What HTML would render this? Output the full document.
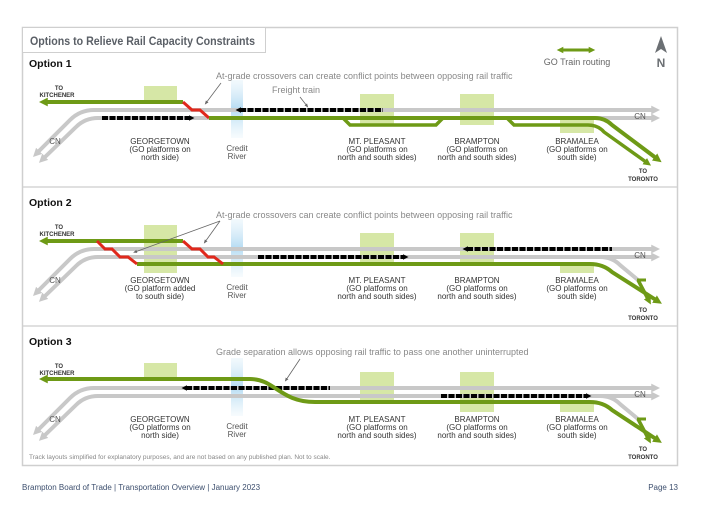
<!DOCTYPE html>
<html><head><meta charset="utf-8"><style>
html,body{margin:0;padding:0;background:#fff;}
svg{display:block;font-family:"Liberation Sans",sans-serif;}
</style></head><body>
<svg width="714" height="511" viewBox="0 0 714 511" xmlns="http://www.w3.org/2000/svg">
<defs>
<linearGradient id="riv" x1="0" y1="0" x2="0" y2="1">
<stop offset="0" stop-color="#d6ecf8" stop-opacity="0.3"/>
<stop offset="0.5" stop-color="#b6dcf3"/>
<stop offset="1" stop-color="#d6ecf8" stop-opacity="0.2"/>
</linearGradient>
<marker id="ga" viewBox="0 0 10 10" refX="2" refY="5" markerWidth="2.2" markerHeight="2.4" orient="auto-start-reverse"><path d="M0 0L10 5L0 10z" fill="#c8c8c8"/></marker>
<marker id="gr" viewBox="0 0 10 10" refX="2" refY="5" markerWidth="2.2" markerHeight="2.4" orient="auto-start-reverse"><path d="M0 0L10 5L0 10z" fill="#6e9a16"/></marker>
<marker id="bk" viewBox="0 0 10 10" refX="2" refY="5" markerWidth="1.4" markerHeight="1.4" orient="auto-start-reverse"><path d="M0 0L10 5L0 10z" fill="#000"/></marker>
<marker id="ar" viewBox="0 0 10 10" refX="5" refY="5" markerWidth="5" markerHeight="5" orient="auto"><path d="M0 1L10 5L0 9z" fill="#666"/></marker>
</defs>

<rect x="22.5" y="27.5" width="655" height="438" fill="none" stroke="#cfcfcf" stroke-width="1.5"/>
<rect x="22.5" y="27.5" width="243" height="25" fill="#fff" stroke="#cfcfcf" stroke-width="1"/>
<text x="30" y="45" font-size="12" font-weight="bold" fill="#5a5f66" textLength="225" lengthAdjust="spacingAndGlyphs">Options to Relieve Rail Capacity Constraints</text>
<line x1="23" y1="187" x2="677" y2="187" stroke="#d5d5d5" stroke-width="1.5"/>
<line x1="23" y1="326" x2="677" y2="326" stroke="#d5d5d5" stroke-width="1.5"/>

<line x1="562" y1="50" x2="590" y2="50" stroke="#6e9a16" stroke-width="3" marker-start="url(#gr)" marker-end="url(#gr)"/>
<text x="577" y="65" font-size="9" fill="#666" text-anchor="middle">GO Train routing</text>
<path d="M661 36L667 53L661 49L655 53Z" fill="#6b6f73"/>
<text x="661" y="67" font-size="12" font-weight="bold" fill="#6b6f73" text-anchor="middle">N</text>

<!-- OPTION 1 -->
<g>
<text x="29" y="67" font-size="10.5" font-weight="bold" fill="#111">Option 1</text>
<rect x="144" y="86" width="33" height="16" fill="#d6e7a6"/>
<rect x="360" y="94" width="34" height="31" fill="#d6e7a6"/>
<rect x="460" y="94" width="34" height="31" fill="#d6e7a6"/>
<rect x="560" y="118" width="34" height="15" fill="#d6e7a6"/>
<rect x="231" y="80" width="12" height="58" fill="url(#riv)"/>
<path d="M38 152L70 120Q80 110 94 110L653 110" fill="none" stroke="#c8c8c8" stroke-width="4" marker-start="url(#ga)" marker-end="url(#ga)"/>
<path d="M44 158L76 127Q85 118 98 118L653 118" fill="none" stroke="#c8c8c8" stroke-width="4" marker-start="url(#ga)" marker-end="url(#ga)"/>
<path d="M46 102L183 102" fill="none" stroke="#6e9a16" stroke-width="4" marker-start="url(#gr)"/>
<path d="M183 102L192 110L200 110L209 118" fill="none" stroke="#e0281c" stroke-width="3"/>
<path d="M209 118L595 118Q605 118 612 125L656 158" fill="none" stroke="#6e9a16" stroke-width="4" marker-end="url(#gr)"/>
<path d="M343 118L350 125L436 125L443 118" fill="none" stroke="#6e9a16" stroke-width="3.5"/>
<path d="M507 118L514 125L588 125Q598 125 604 132L646 162" fill="none" stroke="#6e9a16" stroke-width="3.5" marker-end="url(#gr)"/>
<line x1="102" y1="118" x2="190" y2="118" stroke="#000" stroke-width="4" stroke-dasharray="6 1.5" marker-end="url(#bk)"/>
<line x1="240" y1="110" x2="383" y2="110" stroke="#000" stroke-width="4" stroke-dasharray="6 1.5" marker-start="url(#bk)"/>
<text x="216" y="79" font-size="9" fill="#888">At-grade crossovers can create conflict points between opposing rail traffic</text>
<line x1="221" y1="83" x2="206" y2="103" stroke="#666" stroke-width="0.8" marker-end="url(#ar)"/>
<text x="272" y="93" font-size="9" fill="#888">Freight train</text>
<line x1="300" y1="97" x2="307" y2="106" stroke="#666" stroke-width="0.8" marker-end="url(#ar)"/>
</g>

<!-- OPTION 2 -->
<g transform="translate(0,139)">
<text x="29" y="67" font-size="10.5" font-weight="bold" fill="#111">Option 2</text>
<rect x="144" y="86" width="33" height="48" fill="#d6e7a6"/>
<rect x="360" y="94" width="34" height="30" fill="#d6e7a6"/>
<rect x="460" y="94" width="34" height="30" fill="#d6e7a6"/>
<rect x="560" y="124" width="34" height="10" fill="#d6e7a6"/>
<rect x="231" y="80" width="12" height="58" fill="url(#riv)"/>
<path d="M38 152L70 120Q80 110 94 110L653 110" fill="none" stroke="#c8c8c8" stroke-width="4" marker-start="url(#ga)" marker-end="url(#ga)"/>
<path d="M44 158L76 127Q85 118 98 118L653 118" fill="none" stroke="#c8c8c8" stroke-width="4" marker-start="url(#ga)" marker-end="url(#ga)"/>
<path d="M600 118Q612 118 620 126L638 141" fill="none" stroke="#c8c8c8" stroke-width="4"/>
<path d="M638 141L648 160" fill="none" stroke="#6e9a16" stroke-width="3.5" marker-end="url(#gr)"/>
<path d="M46 102L183 102" fill="none" stroke="#6e9a16" stroke-width="4" marker-start="url(#gr)"/>
<path d="M137 125L590 125Q603 125 612 133L656 161" fill="none" stroke="#6e9a16" stroke-width="4" marker-end="url(#gr)"/>
<path d="M637 141L646 141" stroke="#6e9a16" stroke-width="3"/>
<path d="M97 102L105 110L112 110L120 118L128 118L137 125" fill="none" stroke="#e0281c" stroke-width="3"/>
<path d="M183 102L192 110L200 110L208 118L214 118L223 125" fill="none" stroke="#e0281c" stroke-width="3"/>
<line x1="258" y1="118" x2="404" y2="118" stroke="#000" stroke-width="4" stroke-dasharray="6 1.5" marker-end="url(#bk)"/>
<line x1="467" y1="110" x2="612" y2="110" stroke="#000" stroke-width="4" stroke-dasharray="6 1.5" marker-start="url(#bk)"/>
<text x="216" y="79" font-size="9" fill="#888">At-grade crossovers can create conflict points between opposing rail traffic</text>
<line x1="220" y1="82" x2="135" y2="113" stroke="#666" stroke-width="0.8" marker-end="url(#ar)"/>
<line x1="220" y1="82" x2="205" y2="103" stroke="#666" stroke-width="0.8" marker-end="url(#ar)"/>
</g>

<!-- OPTION 3 -->
<g transform="translate(0,278)">
<text x="29" y="67" font-size="10.5" font-weight="bold" fill="#111">Option 3</text>
<rect x="144" y="85" width="33" height="16" fill="#d6e7a6"/>
<rect x="360" y="94" width="34" height="30" fill="#d6e7a6"/>
<rect x="460" y="94" width="34" height="40" fill="#d6e7a6"/>
<rect x="560" y="124" width="34" height="10" fill="#d6e7a6"/>
<rect x="231" y="80" width="12" height="58" fill="url(#riv)"/>
<path d="M38 152L70 120Q80 110 94 110L653 110" fill="none" stroke="#c8c8c8" stroke-width="4" marker-start="url(#ga)" marker-end="url(#ga)"/>
<path d="M44 158L76 127Q85 118 98 118L653 118" fill="none" stroke="#c8c8c8" stroke-width="4" marker-start="url(#ga)" marker-end="url(#ga)"/>
<path d="M600 118Q612 118 620 126L638 141" fill="none" stroke="#c8c8c8" stroke-width="4"/>
<path d="M638 141L648 160" fill="none" stroke="#6e9a16" stroke-width="3.5" marker-end="url(#gr)"/>
<path d="M637 141L646 141" stroke="#6e9a16" stroke-width="3"/>
<line x1="186" y1="110" x2="330" y2="110" stroke="#000" stroke-width="4" stroke-dasharray="6 1.5" marker-start="url(#bk)"/>
<path d="M46 101L250 101C275 101 280 124 315 124L590 124Q603 124 612 132L656 161" fill="none" stroke="#6e9a16" stroke-width="4" marker-start="url(#gr)" marker-end="url(#gr)"/>
<line x1="441" y1="118" x2="587" y2="118" stroke="#000" stroke-width="4" stroke-dasharray="6 1.5" marker-end="url(#bk)"/>
<text x="216" y="77" font-size="9" fill="#888">Grade separation allows opposing rail traffic to pass one another uninterrupted</text>
<line x1="300" y1="81" x2="286" y2="102" stroke="#666" stroke-width="0.8" marker-end="url(#ar)"/>
</g>

<g font-size="8" fill="#333" text-anchor="middle">
<g>
<text x="59" y="90" font-size="6" font-weight="bold">TO</text>
<text x="57" y="97" font-size="6" font-weight="bold">KITCHENER</text>
<text x="55" y="144" fill="#555">CN</text>
<text x="640" y="119" fill="#555">CN</text>
<text x="237" y="151" fill="#555">Credit</text>
<text x="237" y="159" fill="#555">River</text>
<text x="377" y="144">MT. PLEASANT</text>
<text x="377" y="152">(GO platforms on</text>
<text x="377" y="160">north and south sides)</text>
<text x="477" y="144">BRAMPTON</text>
<text x="477" y="152">(GO platforms on</text>
<text x="477" y="160">north and south sides)</text>
<text x="577" y="144">BRAMALEA</text>
<text x="577" y="152">(GO platforms on</text>
<text x="577" y="160">south side)</text>
<text x="643" y="173" font-size="6" font-weight="bold">TO</text>
<text x="643" y="181" font-size="6" font-weight="bold">TORONTO</text>
<text x="160" y="144">GEORGETOWN</text>
<text x="160" y="152">(GO platforms on</text>
<text x="160" y="160">north side)</text>
</g>
<g transform="translate(0,139)">
<text x="59" y="90" font-size="6" font-weight="bold">TO</text>
<text x="57" y="97" font-size="6" font-weight="bold">KITCHENER</text>
<text x="55" y="144" fill="#555">CN</text>
<text x="640" y="119" fill="#555">CN</text>
<text x="237" y="151" fill="#555">Credit</text>
<text x="237" y="159" fill="#555">River</text>
<text x="377" y="144">MT. PLEASANT</text>
<text x="377" y="152">(GO platforms on</text>
<text x="377" y="160">north and south sides)</text>
<text x="477" y="144">BRAMPTON</text>
<text x="477" y="152">(GO platforms on</text>
<text x="477" y="160">north and south sides)</text>
<text x="577" y="144">BRAMALEA</text>
<text x="577" y="152">(GO platforms on</text>
<text x="577" y="160">south side)</text>
<text x="643" y="173" font-size="6" font-weight="bold">TO</text>
<text x="643" y="181" font-size="6" font-weight="bold">TORONTO</text>
<text x="160" y="144">GEORGETOWN</text>
<text x="160" y="152">(GO platform added</text>
<text x="160" y="160">to south side)</text>
</g>
<g transform="translate(0,278)">
<text x="59" y="90" font-size="6" font-weight="bold">TO</text>
<text x="57" y="97" font-size="6" font-weight="bold">KITCHENER</text>
<text x="55" y="144" fill="#555">CN</text>
<text x="640" y="119" fill="#555">CN</text>
<text x="237" y="151" fill="#555">Credit</text>
<text x="237" y="159" fill="#555">River</text>
<text x="377" y="144">MT. PLEASANT</text>
<text x="377" y="152">(GO platforms on</text>
<text x="377" y="160">north and south sides)</text>
<text x="477" y="144">BRAMPTON</text>
<text x="477" y="152">(GO platforms on</text>
<text x="477" y="160">north and south sides)</text>
<text x="577" y="144">BRAMALEA</text>
<text x="577" y="152">(GO platforms on</text>
<text x="577" y="160">south side)</text>
<text x="643" y="173" font-size="6" font-weight="bold">TO</text>
<text x="643" y="181" font-size="6" font-weight="bold">TORONTO</text>
<text x="160" y="144">GEORGETOWN</text>
<text x="160" y="152">(GO platforms on</text>
<text x="160" y="160">north side)</text>
</g>
</g>

<text x="29" y="459" font-size="6.5" fill="#888">Track layouts simplified for explanatory purposes, and are not based on any published plan. Not to scale.</text>
<text x="22" y="490" font-size="8" fill="#3d4f6e">Brampton Board of Trade  |  Transportation Overview  |  January 2023</text>
<text x="678" y="490" font-size="8" fill="#3d4f6e" text-anchor="end">Page 13</text>
</svg>
</body></html>
